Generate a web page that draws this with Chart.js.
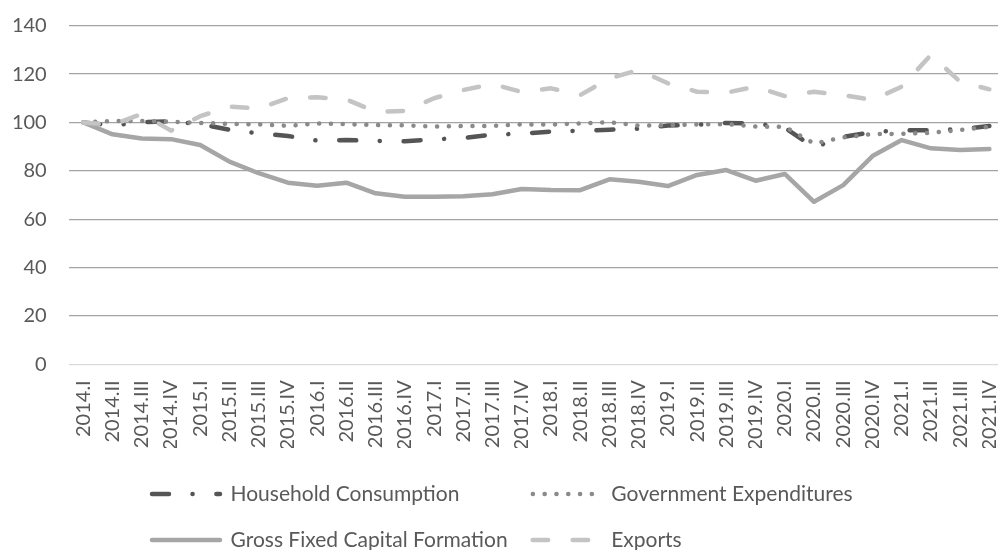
<!DOCTYPE html>
<html>
<head>
<meta charset="utf-8">
<script src="https://cdn.jsdelivr.net/npm/chart.js@4.4.1/dist/chart.umd.min.js"></script>
<style>
  html, body { margin: 0; padding: 0; background: #fff; overflow: hidden; }
  canvas { display: block; }
</style>
</head>
<body>
<canvas id="myChart" width="1004" height="550"></canvas>
<script>
const quarters = [
    '2014.I', '2014.II', '2014.III', '2014.IV',
    '2015.I', '2015.II', '2015.III', '2015.IV',
    '2016.I', '2016.II', '2016.III', '2016.IV',
    '2017.I', '2017.II', '2017.III', '2017.IV',
    '2018.I', '2018.II', '2018.III', '2018.IV',
    '2019.I', '2019.II', '2019.III', '2019.IV',
    '2020.I', '2020.II', '2020.III', '2020.IV',
    '2021.I', '2021.II', '2021.III', '2021.IV'
];

const householdConsumption = [
    100, 98.8, 100.1, 100.5, 99.3, 97.0, 95.5, 94.4,
    92.5, 92.7, 92.4, 92.2, 93.0, 93.6, 94.9, 95.4,
    96.2, 96.6, 97.0, 97.4, 98.7, 99.0, 99.8, 99.6,
    97.8, 89.7, 94.0, 96.0, 96.8, 96.8, 97.2, 98.5
];

const governmentExpenditures = [
    100, 100.6, 100.6, 100.3, 99.8, 99.4, 99.2, 98.6,
    99.6, 99.3, 98.9, 98.8, 98.3, 98.5, 98.6, 99.2,
    99.1, 99.6, 100.1, 98.7, 98.9, 99.2, 99.3, 98.3,
    98.2, 91.3, 93.8, 95.2, 95.3, 95.7, 96.9, 98.2
];

const grossFixedCapital = [
    100, 95.1, 93.4, 93.1, 90.7, 83.8, 79.0, 75.1,
    73.8, 75.1, 70.7, 69.3, 69.3, 69.5, 70.3, 72.5,
    72.1, 72.0, 76.5, 75.5, 73.7, 78.3, 80.3, 75.9,
    78.7, 67.2, 74.1, 86.1, 92.7, 89.3, 88.6, 89.0
];

const exports = [
    100, 99.0, 103.5, 96.6, 102.6, 106.5, 105.8, 110.0,
    110.4, 109.5, 104.4, 104.8, 110.0, 113.4, 115.9, 112.6,
    114.1, 111.3, 118.2, 121.7, 116.2, 112.7, 112.3, 114.8,
    110.9, 112.7, 111.3, 109.3, 114.8, 127.9, 116.8, 113.7
];

const yTicks = [0, 20, 40, 60, 80, 100, 120, 140];

const textColor = '#595959';
const legendFontSize = 21;

Chart.defaults.font.family = 'Lato';
Chart.defaults.color = textColor;

function padLabel(ctx, text, width) {
    let out = text;
    while (ctx.measureText(out).width < width) {
        out += ' ';
    }
    return out;
}

// moves the legend to where the original one sits
const legendShift = {
    id: 'legendShift',
    afterLayout(chart) {
        const lg = chart.legend;
        lg.left = 127;
        lg.top += 10.5;
        lg.bottom = chart.height;
    }
};

const ctx = document.getElementById('myChart').getContext('2d');

const myChart = new Chart(ctx, { // eslint-disable-line
    type: 'line',
    data: {
        labels: quarters,
        datasets: [
            {
                label: 'Household Consumption',
                data: householdConsumption,
                borderColor: '#555555',
                borderWidth: 4.5,
                borderDash: [17, 23.5, 0.1, 23.8],
                order: 3
            },
            {
                label: 'Government Expenditures',
                data: governmentExpenditures,
                borderColor: '#8a8a8a',
                borderWidth: 4.5,
                borderDash: [0.1, 11.7],
                order: 2
            },
            {
                label: 'Gross Fixed Capital Formation',
                data: grossFixedCapital,
                borderColor: '#a6a6a6',
                borderWidth: 4.5,
                borderDash: [],
                order: 1
            },
            {
                label: 'Exports',
                data: exports,
                borderColor: '#c4c4c4',
                borderWidth: 4.5,
                borderDash: [15.5, 24.5],
                order: 0
            }
        ]
    },
    options: {
        responsive: false,
        animation: false,
        devicePixelRatio: 1,
        layout: {
            padding: { top: 25.7, left: 0, right: 0, bottom: 0 }
        },
        elements: {
            line: {
                tension: 0,
                borderCapStyle: 'round',
                borderJoinStyle: 'round',
                fill: false
            },
            point: {
                radius: 0,
                hoverRadius: 0
            }
        },
        scales: {
            x: {
                offset: true,
                grid: { display: false, drawTicks: false },
                border: { display: false },
                ticks: {
                    autoSkip: false,
                    minRotation: 90,
                    maxRotation: 90,
                    padding: 16,
                    color: textColor,
                    font: { size: 20 }
                },
                afterFit(scale) {
                    scale.height = 83.7;
                    scale.paddingLeft = 0;
                    scale.paddingRight = 0;
                }
            },
            y: {
                min: 0,
                max: 140,
                afterBuildTicks(scale) {
                    scale.ticks = yTicks.map(v => ({ value: v }));
                },
                grid: {
                    drawTicks: false,
                    lineWidth: 1.3,
                    color: (c) => c.tick && c.tick.value === 0 ? '#d9d9d9' : '#a3a3a3'
                },
                border: { display: false },
                ticks: {
                    padding: 22,
                    color: textColor,
                    font: { size: 20 }
                },
                afterFit(scale) {
                    scale.width = 68.7;
                    scale.paddingTop = 0;
                    scale.paddingBottom = 0;
                }
            }
        },
        plugins: {
            tooltip: { enabled: false },
            legend: {
                position: 'bottom',
                align: 'start',
                labels: {
                    usePointStyle: true,
                    pointStyleWidth: 68,
                    padding: 25,
                    color: textColor,
                    font: { size: legendFontSize },
                    generateLabels(chart) {
                        const c = chart.ctx;
                        const sets = chart.data.datasets;
                        c.save();
                        c.font = legendFontSize + 'px Lato';
                        // first column: both labels get the same width
                        const colWidth = Math.max(
                            c.measureText(sets[0].label).width,
                            c.measureText(sets[2].label).width
                        );
                        const items = sets.map((ds, i) => ({
                            text: i % 2 === 0 ? padLabel(c, ds.label, colWidth) : ds.label,
                            fillStyle: ds.borderColor,
                            strokeStyle: ds.borderColor,
                            fontColor: textColor,
                            lineWidth: ds.borderWidth,
                            lineDash: ds.borderDash,
                            lineCap: 'round',
                            pointStyle: 'line',
                            rotation: 180,
                            hidden: false,
                            datasetIndex: i
                        }));
                        c.restore();
                        return items;
                    }
                }
            }
        }
    },
    plugins: [legendShift]
});
</script>
</body>
</html>
